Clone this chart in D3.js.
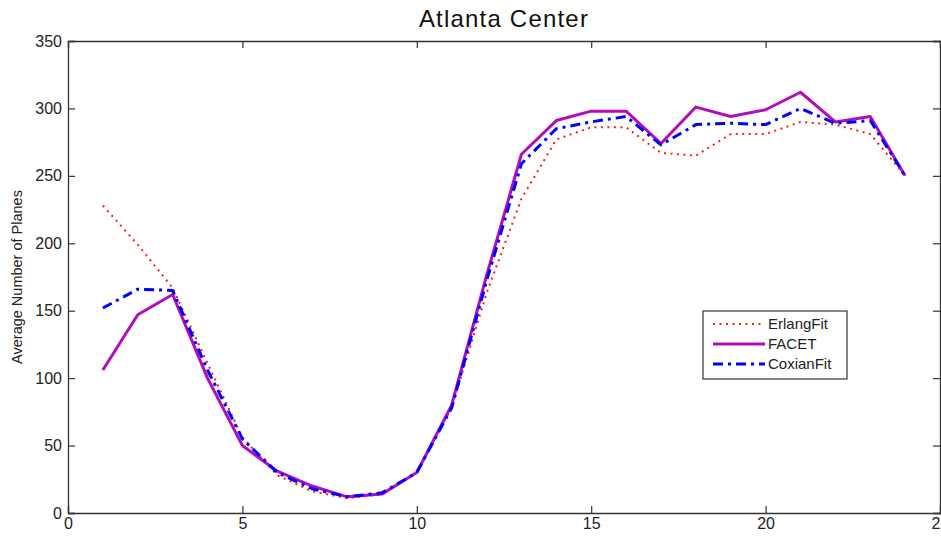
<!DOCTYPE html>
<meta charset="utf-8">
<script src="https://d3js.org/d3.v7.min.js"></script>
<style>
  body { margin: 0; background: #fff; }
  text { font-family: "Liberation Sans", Arial, sans-serif; }
</style>
<div id="chart"></div>
<script>
// hours 1..24
var hours = d3.range(1, 25);
var erlang = [228, 199, 167, 111, 56, 28, 16, 11, 14, 30, 78, 163, 233, 277, 286, 286, 267, 265, 281, 281, 290, 288, 281, 250];
var facet  = [106, 147, 162, 100, 50, 31, 20, 12, 14, 30, 80, 176, 266, 291, 298, 298, 274, 301, 294, 299, 312, 290, 294, 250];
var coxian = [152, 166, 165, 106, 55, 30, 18, 12, 15, 30, 78, 172, 259, 285, 290, 294, 273, 288, 289, 288, 300, 289, 291, 250];
var xTicks = [0, 5, 10, 15, 20, 25];
var yTicks = [0, 50, 100, 150, 200, 250, 300, 350];

var series = [
  {name: "ErlangFit", values: erlang, color: "#ff1a1a", width: 2, dash: "2,4.5"},
  {name: "FACET", values: facet, color: "#b30db8", width: 3, dash: null},
  {name: "CoxianFit", values: coxian, color: "#0000ff", width: 3, dash: "10,5,3,5"}
];

var W = 941, H = 538;
var margin = {top: 41, right: 1, bottom: 25, left: 68};
var width = W - margin.left - margin.right,
    height = H - margin.top - margin.bottom;

var svg = d3.select("#chart").append("svg")
    .attr("width", W).attr("height", H);
var g = svg.append("g")
    .attr("transform", "translate(" + margin.left + "," + margin.top + ")");

var x = d3.scaleLinear().domain([0, 25]).range([0, width]);
var y = d3.scaleLinear().domain([0, 350]).range([height, 0]);

// axes, ticks pointing inside like matlab
var axisColor = "#333";
var xAxisBottom = g.append("g").attr("transform", "translate(0," + height + ")")
  .call(d3.axisBottom(x).tickValues(xTicks).tickSize(-7).tickPadding(5));
var yAxisLeft = g.append("g")
  .call(d3.axisLeft(y).tickValues(yTicks).tickSize(-7).tickPadding(6));
var xAxisTop = g.append("g")
  .call(d3.axisTop(x).tickValues(xTicks).tickSize(-7).tickFormat(""));
var yAxisRight = g.append("g").attr("transform", "translate(" + width + ",0)")
  .call(d3.axisRight(y).tickValues(yTicks).tickSize(-7).tickFormat(""));

[xAxisBottom, yAxisLeft, xAxisTop, yAxisRight].forEach(function(a) {
  a.selectAll("path").attr("stroke", axisColor).attr("stroke-width", 1.3);
  a.selectAll("line").attr("stroke", axisColor).attr("stroke-width", 1.2);
  a.selectAll("text").attr("fill", "#222").style("font-size", "16px")
    .style("font-family", "'Liberation Sans', Arial, sans-serif");
});

var line = d3.line()
  .x(function(d, i) { return x(hours[i]); })
  .y(function(d) { return y(d); });

series.forEach(function(s) {
  g.append("path")
    .datum(s.values)
    .attr("fill", "none")
    .attr("stroke", s.color)
    .attr("stroke-width", s.width)
    .attr("stroke-dasharray", s.dash)
    .attr("stroke-linejoin", "round")
    .attr("d", line);
});

// title
svg.append("text")
  .attr("x", margin.left + width / 2)
  .attr("y", 27)
  .attr("text-anchor", "middle")
  .style("font-size", "24px")
  .style("letter-spacing", "1.2px")
  .attr("fill", "#111")
  .text("Atlanta Center");

// y label
svg.append("text")
  .attr("transform", "translate(22," + (margin.top + height / 2) + ") rotate(-90)")
  .attr("text-anchor", "middle")
  .style("font-size", "14.5px")
  .attr("fill", "#222")
  .text("Average Number of Planes");

// legend
var legend = svg.append("g").attr("transform", "translate(703,311)");
legend.append("rect")
  .attr("width", 144).attr("height", 68)
  .attr("fill", "#fff").attr("stroke", axisColor).attr("stroke-width", 1.2);
series.forEach(function(s, i) {
  var ly = 13 + i * 20;
  legend.append("line")
    .attr("x1", 10).attr("x2", 62).attr("y1", ly).attr("y2", ly)
    .attr("stroke", s.color).attr("stroke-width", s.width)
    .attr("stroke-dasharray", s.dash);
  legend.append("text")
    .attr("x", 65).attr("y", ly + 5)
    .style("font-size", "15px")
    .attr("fill", "#222")
    .text(s.name);
});
</script>
